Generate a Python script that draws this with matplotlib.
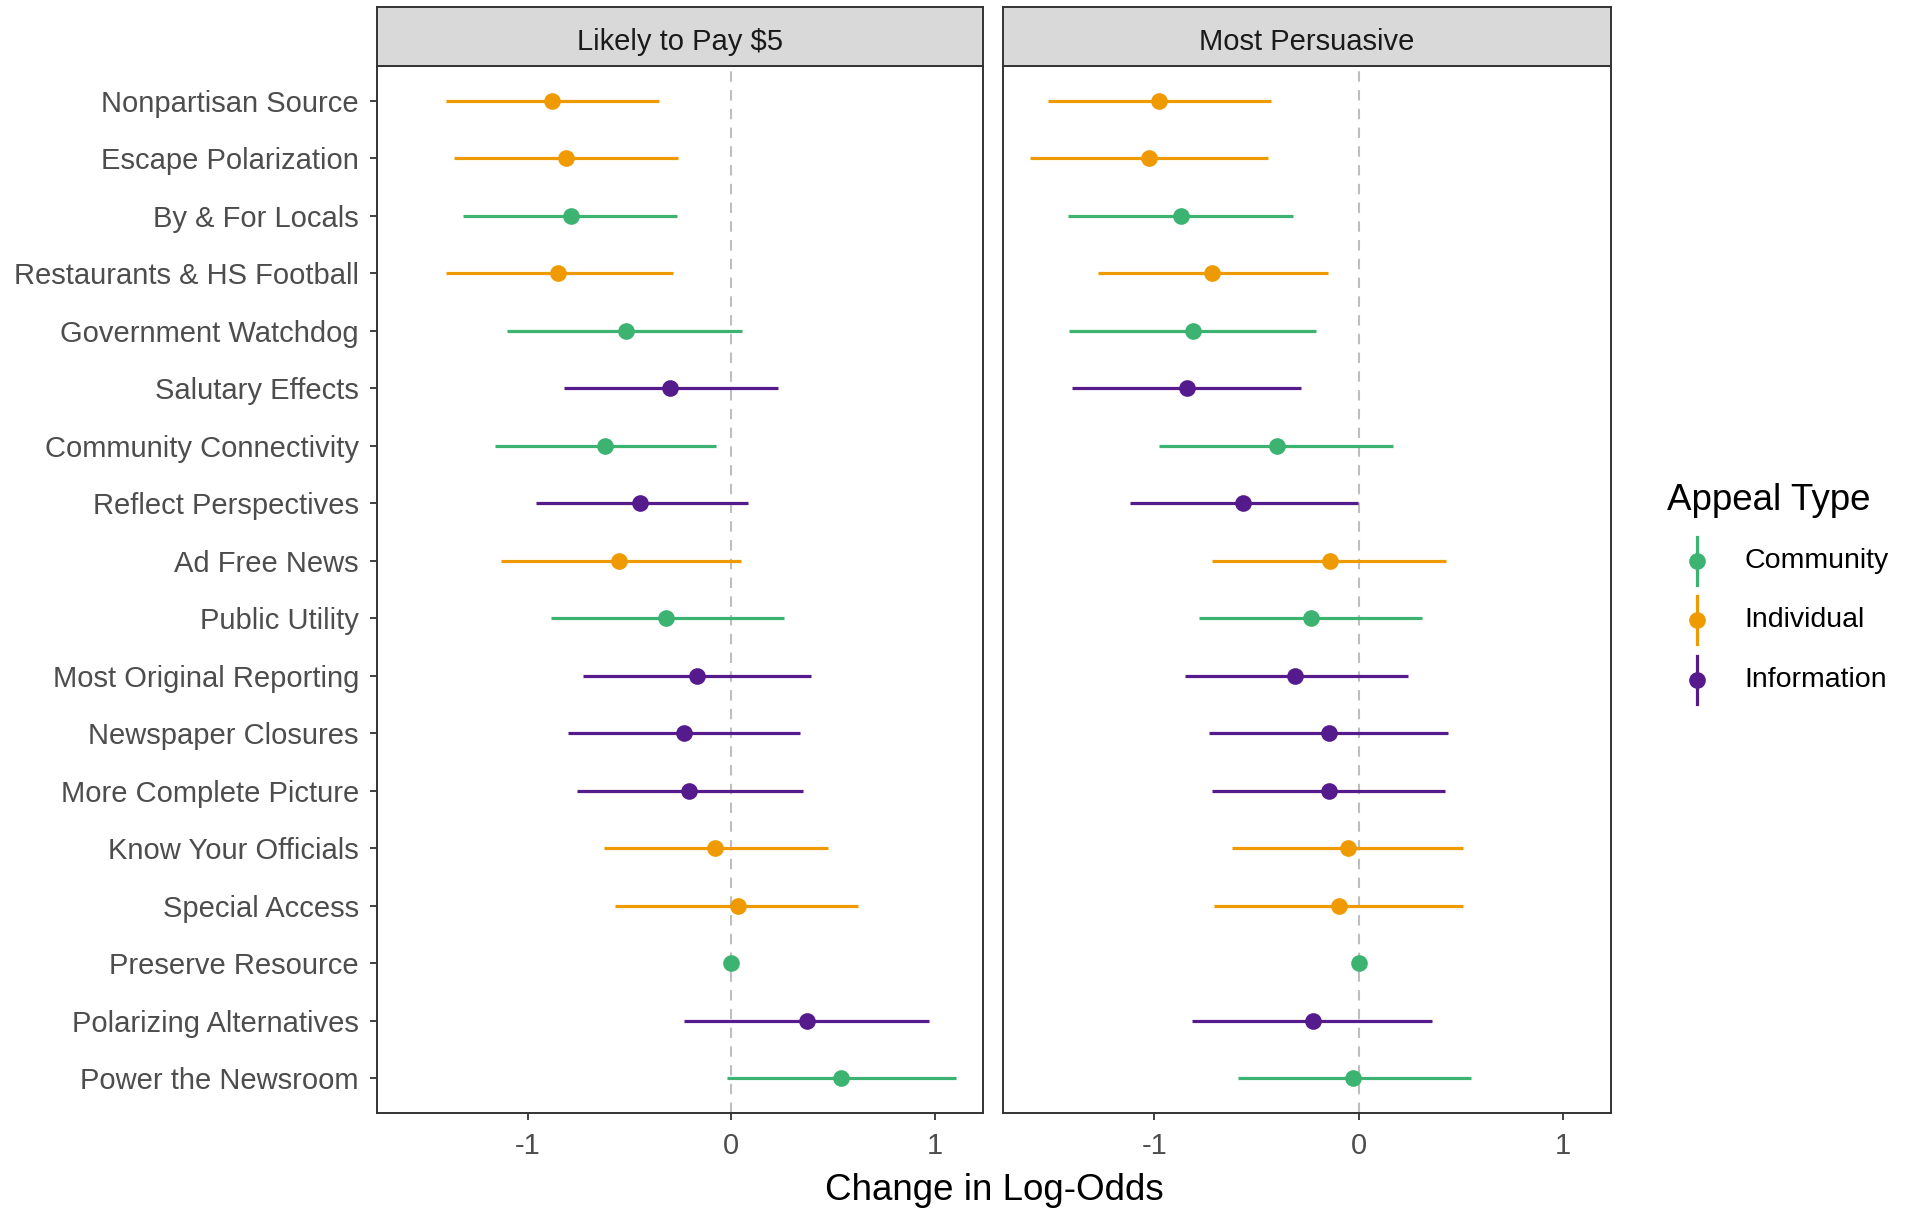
import numpy as np
import matplotlib
matplotlib.use("Agg")
import matplotlib.pyplot as plt
from matplotlib.lines import Line2D

plt.rcParams['font.family'] = ['Liberation Sans', 'DejaVu Sans']

# --- Данные (сверху вниз) ---
appeals = ["Nonpartisan Source", "Escape Polarization", "By & For Locals",
           "Restaurants & HS Football", "Government Watchdog", "Salutary Effects",
           "Community Connectivity", "Reflect Perspectives", "Ad Free News",
           "Public Utility", "Most Original Reporting", "Newspaper Closures",
           "More Complete Picture", "Know Your Officials", "Special Access",
           "Preserve Resource", "Polarizing Alternatives", "Power the Newsroom"]
appeal_type = ["Individual", "Individual", "Community", "Individual", "Community",
               "Information", "Community", "Information", "Individual", "Community",
               "Information", "Information", "Information", "Individual", "Individual",
               "Community", "Information", "Community"]

pay_est = [-0.88, -0.81, -0.79, -0.85, -0.52, -0.30, -0.62, -0.45, -0.55,
           -0.32, -0.17, -0.235, -0.21, -0.08, 0.03, 0.0, 0.37, 0.54]
pay_lo = [-1.40, -1.36, -1.32, -1.40, -1.10, -0.82, -1.16, -0.96, -1.13,
          -0.885, -0.73, -0.80, -0.76, -0.625, -0.57, np.nan, -0.235, -0.02]
pay_hi = [-0.355, -0.26, -0.265, -0.285, 0.05, 0.23, -0.075, 0.08, 0.045,
          0.26, 0.39, 0.335, 0.35, 0.475, 0.62, np.nan, 0.97, 1.10]

pers_est = [-0.975, -1.025, -0.87, -0.715, -0.81, -0.84, -0.40, -0.565, -0.14,
            -0.235, -0.31, -0.145, -0.145, -0.05, -0.095, 0.0, -0.225, -0.025]
pers_lo = [-1.52, -1.61, -1.42, -1.275, -1.415, -1.40, -0.975, -1.12, -0.715,
           -0.78, -0.85, -0.73, -0.715, -0.62, -0.71, np.nan, -0.815, -0.59]
pers_hi = [-0.43, -0.445, -0.32, -0.15, -0.21, -0.28, 0.17, -0.005, 0.43,
           0.31, 0.24, 0.435, 0.425, 0.51, 0.51, np.nan, 0.36, 0.55]

panels = ["Likely to Pay $5", "Most Persuasive"]
type_names = ["Community", "Individual", "Information"]
type_colors = {"Community": "#3CB371", "Individual": "#EE9A00", "Information": "#551A8B"}

# --- Рисунок ---
fig = plt.figure(figsize=(19.09, 12.08), dpi=100)
W, H = 1909, 1208

def fx(px):
    return px / W

def fy(py):
    return 1 - py / H

panel_x = [(377, 983), (1003, 1611)]
panel_top, panel_bot = 66, 1113
strip_top = 7

y = np.arange(len(appeals))
types = np.array(appeal_type)
series = [(pay_est, pay_lo, pay_hi), (pers_est, pers_lo, pers_hi)]

for i, (x0, x1) in enumerate(panel_x):
    ax = fig.add_axes([fx(x0), fy(panel_bot), fx(x1 - x0), (panel_bot - panel_top) / H])
    est, lo, hi = [np.array(s) for s in series[i]]
    ax.axvline(0, color="#BEBEBE", lw=1.5, ls=(0, (5, 4)), zorder=1)
    for t in type_names:
        m = types == t
        ax.hlines(y[m], lo[m], hi[m], colors=type_colors[t], lw=2.3, zorder=2)
        ax.plot(est[m], y[m], "o", color=type_colors[t], ms=12, mew=0, zorder=3)
    ax.set_xlim(-1.74, 1.235)
    ax.set_ylim(len(appeals) - 0.4, -0.6)
    ax.set_xticks([-1, 0, 1])
    ax.set_xticklabels(["-1", "0", "1"])
    ax.set_yticks(y)
    ax.tick_params(labelsize=21, labelcolor="#4D4D4D", color="#333333",
                   width=1.3, length=5)
    ax.tick_params(axis="x", pad=9)
    ax.tick_params(axis="y", pad=8)
    if i == 0:
        ax.set_yticklabels(appeals)
    else:
        ax.set_yticklabels([])
        ax.tick_params(axis="y", length=0)
    for sp in ax.spines.values():
        sp.set_color("#333333")
        sp.set_linewidth(1.4)

    # полоска фасета
    sax = fig.add_axes([fx(x0), fy(panel_top), fx(x1 - x0), (panel_top - strip_top) / H])
    sax.set_facecolor("#D9D9D9")
    sax.set_xticks([])
    sax.set_yticks([])
    for sp in sax.spines.values():
        sp.set_color("#333333")
        sp.set_linewidth(1.4)
    sax.text(0.5, 0.4, panels[i], ha="center", va="center", fontsize=21,
             color="#1A1A1A", transform=sax.transAxes)

fig.text(fx(994), fy(1191), "Change in Log-Odds", ha="center", va="center", fontsize=26.5)

# --- Легенда ---
fig.text(fx(1667), fy(500), "Appeal Type", ha="left", va="center", fontsize=26.5)
for k, (t, ry) in enumerate(zip(type_names, [561, 620, 680])):
    c = type_colors[t]
    fig.add_artist(Line2D([fx(1697), fx(1697)], [fy(ry - 24), fy(ry + 24)],
                          transform=fig.transFigure, color=c, lw=2.3))
    fig.add_artist(Line2D([fx(1697)], [fy(ry)], transform=fig.transFigure,
                          marker="o", color=c, ms=12, mew=0))
    fig.text(fx(1744), fy(ry), t, ha="left", va="center", fontsize=20.5)

fig.savefig("out.png", dpi=100)
